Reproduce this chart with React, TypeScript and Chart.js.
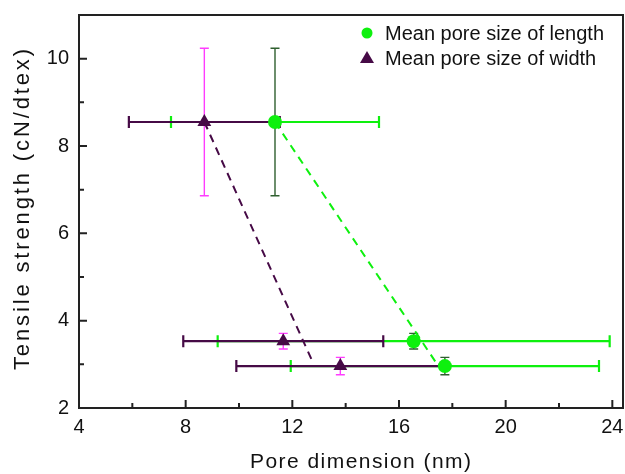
import React, { useEffect, useRef } from 'react';
import { Chart, registerables } from 'chart.js';

Chart.register(...registerables);

// ---- data ----
const X_TICKS = [4, 6, 8, 10, 12, 14, 16, 18, 20, 22, 24];
const X_LABELED = [4, 8, 12, 16, 20, 24];
const Y_TICKS = [2, 3, 4, 5, 6, 7, 8, 9, 10];
const Y_LABELED = [2, 4, 6, 8, 10];

const LENGTH_X = [11.35, 16.55, 17.72];
const LENGTH_Y = [8.55, 3.53, 2.96];
const LENGTH_XERR = [3.9, 7.35, 5.78];
const LENGTH_YERR = [1.69, 0.18, 0.2];

const WIDTH_X = [8.7, 11.66, 13.8];
const WIDTH_Y = [8.55, 3.53, 2.96];
const WIDTH_XERR = [2.83, 3.75, 3.9];
const WIDTH_YERR = [1.69, 0.18, 0.2];

const LENGTH_FIT_X = [11.35, 17.4];
const LENGTH_FIT_Y = [8.55, 3.03];
const WIDTH_FIT_X = [8.7, 12.78];
const WIDTH_FIT_Y = [8.55, 3.03];

const SERIES_LABELS = ['Mean pore size of length', 'Mean pore size of width'];
const X_TITLE = 'Pore dimension (nm)';
const Y_TITLE = 'Tensile strength (cN/dtex)';

const GREEN = '#0ef00e';
const PURPLE = '#460a46';
const MAGENTA = '#ff3cff';
const DARK_GREEN = '#2f5f2f';
const FONT = "'Liberation Sans', Arial, sans-serif";

const toPts = (xs: number[], ys: number[]) => xs.map((x, i) => ({ x, y: ys[i] }));

const zeroPad = (axis: any) => {
  axis.paddingTop = 0;
  axis.paddingBottom = 0;
  axis.paddingLeft = 0;
  axis.paddingRight = 0;
};

const errorBarPlugin = {
  id: 'errorBars',
  beforeDatasetsDraw(chart: any) {
    const xs = chart.scales.x;
    const ys = chart.scales.y;
    const ctx = chart.ctx;
    const sets = [
      { x: LENGTH_X, y: LENGTH_Y, xe: LENGTH_XERR, ye: LENGTH_YERR, xc: GREEN, yc: DARK_GREEN },
      { x: WIDTH_X, y: WIDTH_Y, xe: WIDTH_XERR, ye: WIDTH_YERR, xc: PURPLE, yc: MAGENTA },
    ];
    ctx.save();
    ctx.lineCap = 'butt';
    sets.forEach((s) => {
      ctx.strokeStyle = s.xc;
      ctx.lineWidth = 2.2;
      s.x.forEach((xv, i) => {
        const py = ys.getPixelForValue(s.y[i]);
        const x0 = xs.getPixelForValue(xv - s.xe[i]);
        const x1 = xs.getPixelForValue(xv + s.xe[i]);
        ctx.beginPath();
        ctx.moveTo(x0, py);
        ctx.lineTo(x1, py);
        ctx.moveTo(x0, py - 6);
        ctx.lineTo(x0, py + 6);
        ctx.moveTo(x1, py - 6);
        ctx.lineTo(x1, py + 6);
        ctx.stroke();
      });
    });
    sets.forEach((s) => {
      ctx.strokeStyle = s.yc;
      ctx.lineWidth = 1.4;
      s.x.forEach((xv, i) => {
        const px = xs.getPixelForValue(xv);
        const y0 = ys.getPixelForValue(s.y[i] - s.ye[i]);
        const y1 = ys.getPixelForValue(s.y[i] + s.ye[i]);
        ctx.beginPath();
        ctx.moveTo(px, y0);
        ctx.lineTo(px, y1);
        ctx.moveTo(px - 4.5, y0);
        ctx.lineTo(px + 4.5, y0);
        ctx.moveTo(px - 4.5, y1);
        ctx.lineTo(px + 4.5, y1);
        ctx.stroke();
      });
    });
    ctx.restore();
  },
};

// draws text spread (letter spacing) along its direction to a target length
const drawSpread = (ctx: any, text: string, size: number, length: number) => {
  ctx.font = `${size}px ${FONT}`;
  ctx.textAlign = 'left';
  ctx.textBaseline = 'alphabetic';
  const w = ctx.measureText(text).width;
  const gap = Math.max(0, (length - w) / Math.max(1, text.length - 1));
  if ('letterSpacing' in ctx) {
    ctx.letterSpacing = `${gap}px`;
    ctx.fillText(text, -length / 2, 0);
    ctx.letterSpacing = '0px';
  } else {
    ctx.scale(length / w, 1);
    ctx.fillText(text, -w / 2, 0);
  }
};

const framePlugin = {
  id: 'frame',
  afterDraw(chart: any) {
    const { ctx, chartArea } = chart;
    const xs = chart.scales.x;
    const ys = chart.scales.y;
    ctx.save();
    ctx.strokeStyle = '#222';
    ctx.lineWidth = 2;
    ctx.strokeRect(chartArea.left, chartArea.top, chartArea.right - chartArea.left, chartArea.bottom - chartArea.top);
    ctx.beginPath();
    X_TICKS.forEach((v) => {
      const px = xs.getPixelForValue(v);
      const len = X_LABELED.includes(v) ? 8 : 5;
      ctx.moveTo(px, chartArea.bottom);
      ctx.lineTo(px, chartArea.bottom - len);
    });
    Y_TICKS.forEach((v) => {
      const py = ys.getPixelForValue(v);
      const len = Y_LABELED.includes(v) ? 8 : 5;
      ctx.moveTo(chartArea.left, py);
      ctx.lineTo(chartArea.left + len, py);
    });
    ctx.stroke();

    // axis titles
    ctx.fillStyle = '#111';
    ctx.save();
    ctx.translate((chartArea.left + chartArea.right) / 2 + 9.5, chartArea.bottom + 60);
    drawSpread(ctx, X_TITLE, 21, 221);
    ctx.restore();
    ctx.save();
    ctx.translate(chartArea.left - 50, (chartArea.top + chartArea.bottom) / 2 - 2);
    ctx.rotate(-Math.PI / 2);
    drawSpread(ctx, Y_TITLE, 22, 321);
    ctx.restore();

    // legend
    const lx = chartArea.right - 256;
    const ly = chartArea.top + 18;
    const rowH = 25;
    ctx.fillStyle = GREEN;
    ctx.beginPath();
    ctx.arc(lx, ly, 5.5, 0, Math.PI * 2);
    ctx.fill();
    ctx.fillStyle = PURPLE;
    ctx.beginPath();
    ctx.moveTo(lx, ly + rowH - 7);
    ctx.lineTo(lx + 7, ly + rowH + 5);
    ctx.lineTo(lx - 7, ly + rowH + 5);
    ctx.closePath();
    ctx.fill();
    ctx.fillStyle = '#111';
    ctx.font = `20px ${FONT}`;
    ctx.textBaseline = 'middle';
    ctx.textAlign = 'left';
    ctx.fillText(SERIES_LABELS[0], lx + 18, ly + 1);
    ctx.fillText(SERIES_LABELS[1], lx + 18, ly + rowH + 1);
    ctx.restore();
  },
};

export default function App() {
  const ref = useRef<HTMLCanvasElement | null>(null);
  useEffect(() => {
    document.body.style.margin = '0';
    document.body.style.overflow = 'hidden';
    const canvas = ref.current;
    if (!canvas) return;
    const chart = new Chart(canvas, {
      type: 'scatter',
      data: {
        datasets: [
          {
            label: SERIES_LABELS[0],
            data: toPts(LENGTH_X, LENGTH_Y),
            backgroundColor: GREEN,
            borderColor: GREEN,
            pointStyle: 'circle',
            pointRadius: 7,
            borderWidth: 0,
            showLine: false,
            order: 0,
          },
          {
            label: SERIES_LABELS[1],
            data: toPts(WIDTH_X, WIDTH_Y),
            backgroundColor: PURPLE,
            borderColor: PURPLE,
            pointStyle: 'triangle',
            pointRadius: 8,
            borderWidth: 0,
            showLine: false,
            order: 0,
          },
          {
            label: 'length fit',
            data: toPts(LENGTH_FIT_X, LENGTH_FIT_Y),
            borderColor: GREEN,
            borderWidth: 2,
            borderDash: [8, 6],
            pointRadius: 0,
            showLine: true,
            order: 1,
          },
          {
            label: 'width fit',
            data: toPts(WIDTH_FIT_X, WIDTH_FIT_Y),
            borderColor: PURPLE,
            borderWidth: 2,
            borderDash: [8, 6],
            pointRadius: 0,
            showLine: true,
            order: 1,
          },
        ],
      },
      options: {
        animation: false,
        responsive: false,
        layout: { padding: { top: 15, right: 2, left: 0, bottom: 0 } },
        plugins: {
          legend: { display: false },
          tooltip: { enabled: false },
        },
        scales: {
          x: {
            type: 'linear',
            min: 4,
            max: 24.4,
            grid: { display: false, drawTicks: false },
            border: { display: false },
            afterBuildTicks: (axis: any) => {
              axis.ticks = X_TICKS.map((v) => ({ value: v }));
            },
            afterFit: (axis: any) => {
              axis.height = 66;
              zeroPad(axis);
            },
            ticks: {
              autoSkip: false,
              maxRotation: 0,
              padding: 7,
              color: '#111',
              font: { family: FONT, size: 20 },
              callback: (v: any) => (X_LABELED.includes(Number(v)) ? String(v) : ''),
            },
            title: { display: false },
          },
          y: {
            type: 'linear',
            min: 2,
            max: 11,
            grid: { display: false, drawTicks: false },
            border: { display: false },
            afterBuildTicks: (axis: any) => {
              axis.ticks = Y_TICKS.map((v) => ({ value: v }));
            },
            afterFit: (axis: any) => {
              axis.width = 79;
              zeroPad(axis);
            },
            ticks: {
              autoSkip: false,
              padding: 10,
              color: '#111',
              font: { family: FONT, size: 20 },
              callback: (v: any) => (Y_LABELED.includes(Number(v)) ? String(v) : ''),
            },
            title: { display: false },
          },
        },
      },
      plugins: [errorBarPlugin, framePlugin],
    } as any);
    return () => chart.destroy();
  }, []);
  return (
    <div style={{ width: 625, height: 474, overflow: 'hidden' }}>
      <canvas ref={ref} width={631} height={474} style={{ display: 'block' }} />
    </div>
  );
}
